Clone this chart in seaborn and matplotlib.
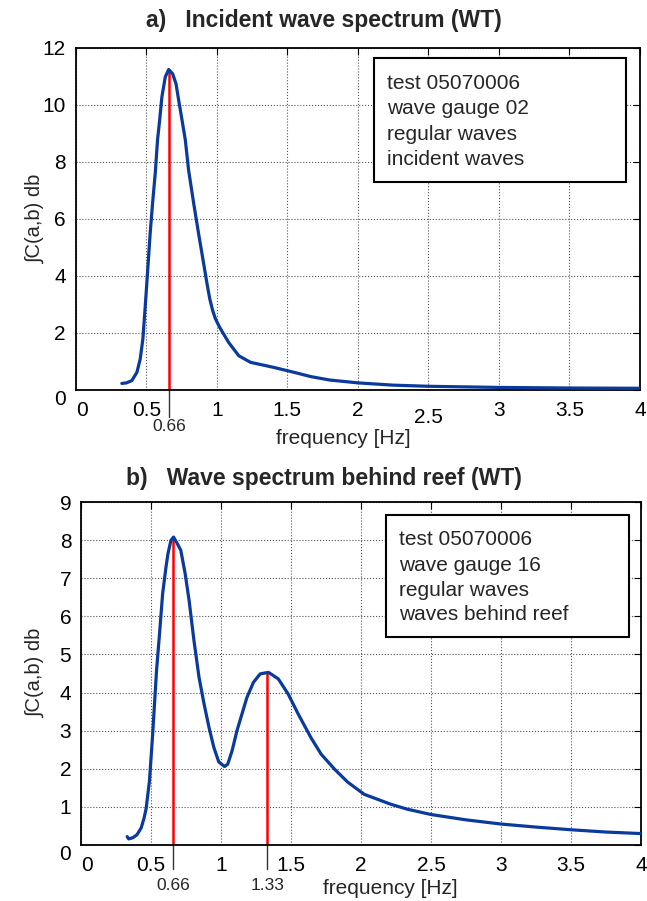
import matplotlib
matplotlib.use("Agg")
import matplotlib.pyplot as plt
from matplotlib.patches import Rectangle
import seaborn as sns
import pandas as pd

# ---------------- data ----------------
freq_a = [0.327, 0.36, 0.398, 0.434, 0.457, 0.476, 0.493, 0.509, 0.528, 0.545, 0.564,
          0.58, 0.595, 0.611, 0.635, 0.659, 0.687, 0.711, 0.73, 0.754, 0.777, 0.8,
          0.836, 0.872, 0.908, 0.93, 0.95, 0.97, 0.99, 1.02, 1.05, 1.085, 1.156,
          1.239, 1.405, 1.547, 1.666, 1.8, 2.0, 2.25, 2.5, 3.0, 3.5, 4.0]
spec_a = [0.23, 0.25, 0.33, 0.62, 1.08, 1.78, 2.94, 4.1, 5.5, 6.55, 7.6,
          8.76, 9.45, 10.27, 10.97, 11.23, 11.08, 10.73, 10.15, 9.45, 8.76, 7.71,
          6.55, 5.45, 4.4, 3.75, 3.2, 2.8, 2.5, 2.2, 1.95, 1.66, 1.2,
          0.97, 0.79, 0.62, 0.47, 0.35, 0.25, 0.17, 0.13, 0.09, 0.07, 0.06]

freq_b = [0.33, 0.34, 0.37, 0.40, 0.43, 0.45, 0.465, 0.489, 0.512, 0.54, 0.56, 0.583,
          0.607, 0.621, 0.642, 0.661, 0.689, 0.713, 0.744, 0.772, 0.807, 0.843, 0.878,
          0.914, 0.949, 0.984, 1.025, 1.048, 1.079, 1.114, 1.15, 1.185, 1.232, 1.28,
          1.339, 1.409, 1.48, 1.551, 1.645, 1.716, 1.811, 1.905, 2.023, 2.212, 2.33,
          2.5, 2.75, 3.0, 3.25, 3.5, 3.75, 4.0]
spec_b = [0.22, 0.16, 0.19, 0.27, 0.45, 0.7, 0.95, 1.68, 2.91, 4.6, 5.5, 6.59,
          7.29, 7.64, 7.99, 8.08, 7.9, 7.73, 7.12, 6.42, 5.36, 4.4, 3.72,
          3.09, 2.56, 2.18, 2.06, 2.12, 2.47, 3.0, 3.44, 3.87, 4.27, 4.49,
          4.53, 4.36, 3.96, 3.44, 2.8, 2.38, 1.99, 1.65, 1.33, 1.07, 0.94,
          0.8, 0.66, 0.55, 0.47, 0.4, 0.34, 0.3]

peaks_a = [0.66]
peak_vals_a = [11.23]
peak_labels_a = ["0.66"]
peaks_b = [0.66, 1.33]
peak_vals_b = [8.08, 4.53]
peak_labels_b = ["0.66", "1.33"]

xticks = [0, 0.5, 1, 1.5, 2, 2.5, 3, 3.5, 4]
xtick_labels = ["0", "0.5", "1", "1.5", "2", "2.5", "3", "3.5", "4"]
yticks_a = [0, 2, 4, 6, 8, 10, 12]
yticks_b = [0, 1, 2, 3, 4, 5, 6, 7, 8, 9]

title_a = "a)   Incident wave spectrum (WT)"
title_b = "b)   Wave spectrum behind reef (WT)"
info_a = ["test 05070006", "wave gauge 02", "regular waves", "incident waves"]
info_b = ["test 05070006", "wave gauge 16", "regular waves", "waves behind reef"]
ylabel = "\u222bC(a,b) db"
xlabel = "frequency [Hz]"

# ---------------- style ----------------
sns.set_style("white")
plt.rcParams["font.family"] = ["Liberation Sans", "DejaVu Sans"]

W, H = 647, 901
fig = plt.figure(figsize=(W / 100, H / 100), dpi=100)

BLUE = "#0a3a9c"


def px_axes(left, right, top, bottom):
    return fig.add_axes([left / W, 1 - bottom / H, (right - left) / W, (bottom - top) / H])


def setup(ax, df, yticks, ymax, peaks, peak_vals, peak_labels, box, lines, info,
          tick_len, label_y_axes):
    ax.set_xlim(0, 4)
    ax.set_ylim(0, ymax)
    ax.grid(True, linestyle=":", color="#555555", linewidth=0.8)
    ax.vlines(peaks, 0, peak_vals, color="red", linewidth=1.8, zorder=2)
    sns.lineplot(data=df, x="f", y="v", ax=ax, color=BLUE, linewidth=2.3,
                 sort=False, zorder=3, legend=False)
    ax.set_xlabel("")
    ax.set_ylabel("")
    ax.set_xticks(xticks)
    ax.set_xticklabels(xtick_labels)
    ax.set_yticks(yticks)
    ax.set_yticklabels([str(t) for t in yticks])
    ax.tick_params(direction="in", length=5, width=0.8, top=True, right=True,
                   labelsize=15, colors="black")
    ax.tick_params(axis="x", pad=8)
    ax.tick_params(axis="y", pad=7)
    for s in ax.spines.values():
        s.set_color("black")
        s.set_linewidth(1.3)
        s.set_visible(True)
    ax.get_xticklabels()[0].set_horizontalalignment("left")
    ax.get_yticklabels()[0].set_verticalalignment("top")
    trans = ax.get_xaxis_transform()
    for p, lab in zip(peaks, peak_labels):
        ax.plot([p, p], [0, -tick_len], transform=trans, clip_on=False,
                color="#333333", linewidth=1.0)
        ax.text(p, label_y_axes, lab, transform=trans, ha="center", va="center",
                fontsize=12.5)
    x0, y0, x1, y1, tx = box
    ax.add_patch(Rectangle((x0, y0), x1 - x0, y1 - y0, transform=ax.transAxes,
                           facecolor="white", edgecolor="black", linewidth=1.5,
                           zorder=5))
    for ly, txt in zip(lines, info):
        ax.text(tx, ly, txt, transform=ax.transAxes, ha="left", va="center",
                fontsize=15, zorder=6)


ax1 = px_axes(75.7, 640, 47.5, 390)
setup(ax1, pd.DataFrame({"f": freq_a, "v": spec_a}), yticks_a, 12,
      peaks_a, peak_vals_a, peak_labels_a,
      (0.529, 0.608, 0.976, 0.968, 0.552), [0.896, 0.823, 0.747, 0.674], info_a,
      0.079, -0.108)
ax1.xaxis.get_major_ticks()[5].set_pad(13)

ax2 = px_axes(81, 641, 502, 845)
setup(ax2, pd.DataFrame({"f": freq_b, "v": spec_b}), yticks_b, 9,
      peaks_b, peak_vals_b, peak_labels_b,
      (0.545, 0.606, 0.979, 0.962, 0.568), [0.892, 0.816, 0.743, 0.671], info_b,
      0.07, -0.117)

fig.text(0.5, 1 - 21 / H, title_a, ha="center", va="center", fontsize=16.5,
         fontweight="bold")
fig.text(0.5, 1 - 478 / H, title_b, ha="center", va="center", fontsize=16.5,
         fontweight="bold")
fig.text(35 / W, 1 - 218 / H, ylabel, rotation=90, ha="center", va="center",
         fontsize=14.5)
fig.text(35 / W, 1 - 672 / H, ylabel, rotation=90, ha="center", va="center",
         fontsize=14.5)
fig.text(343 / W, 1 - 438 / H, xlabel, ha="center", va="center", fontsize=15)
fig.text(390 / W, 1 - 888 / H, xlabel, ha="center", va="center", fontsize=15)

fig.savefig("out.png", dpi=100, facecolor="white")
